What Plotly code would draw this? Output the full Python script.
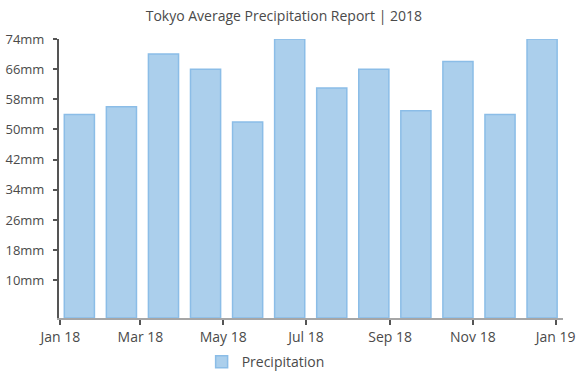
import plotly.graph_objects as go

months = ["2018-01-15", "2018-02-15", "2018-03-18", "2018-04-18", "2018-05-19", "2018-06-19",
          "2018-07-20", "2018-08-20", "2018-09-20", "2018-10-21", "2018-11-21", "2018-12-22"]
precipitation = [54, 56, 70, 66, 52, 74, 61, 66, 55, 68, 54, 74]

x_tick_dates = ["2018-01-01", "2018-03-01", "2018-05-01", "2018-07-01", "2018-09-01", "2018-11-01", "2019-01-01"]
x_tick_labels = ["Jan 18", "Mar 18", "May 18", "Jul 18", "Sep 18", "Nov 18", "Jan 19"]
y_tick_vals = [10, 18, 26, 34, 42, 50, 58, 66, 74]
y_tick_labels = [f"{v}mm" for v in y_tick_vals]

FONT = "Open Sans, Segoe UI, sans-serif"
TEXT = "#4a4a4a"

fig = go.Figure()
fig.add_trace(go.Bar(
    x=months, y=precipitation, name="Precipitation",
    width=22.2 * 86400000,
    marker=dict(color="#abcfec", line=dict(color="#8bbde7", width=1.5)),
    showlegend=True,
))

fig.update_layout(
    width=577, height=376,
    margin=dict(l=59, r=14, t=39, b=58, autoexpand=False),
    paper_bgcolor="white", plot_bgcolor="white",
    font=dict(family=FONT, color=TEXT, size=13),
    title=dict(text="Tokyo Average Precipitation Report | 2018", x=0.492, xref="container",
               xanchor="center", y=0.957, yref="container", yanchor="middle",
               font=dict(family=FONT, size=14, color=TEXT), automargin=False),
    showlegend=True,
    legend=dict(orientation="h", x=0.283, xanchor="left", y=-0.158, yanchor="middle",
                font=dict(family=FONT, size=14, color=TEXT), itemwidth=30),
    xaxis=dict(
        type="date", range=["2017-12-31 00:00", "2019-01-06 10:00"],
        tickvals=x_tick_dates, ticktext=x_tick_labels,
        showgrid=False, zeroline=False, automargin=False,
        showline=True, linecolor="#a6a6a6", linewidth=2,
        ticks="outside", ticklen=5, tickwidth=1.5, tickcolor="#555555",
        tickfont=dict(family=FONT, size=14, color=TEXT),
    ),
    yaxis=dict(
        range=[0, 74], tickvals=y_tick_vals, ticktext=y_tick_labels,
        showgrid=False, zeroline=False, automargin=False,
        showline=True, linecolor="#555555", linewidth=2,
        ticks="outside", ticklen=4, tickwidth=1.5, tickcolor="#555555",
        ticklabelstandoff=6,
        tickfont=dict(family=FONT, size=13, color=TEXT),
    ),
)

fig.write_html("out.html", config={"displayModeBar": False},
               post_script="document.body.style.margin='0px';")
